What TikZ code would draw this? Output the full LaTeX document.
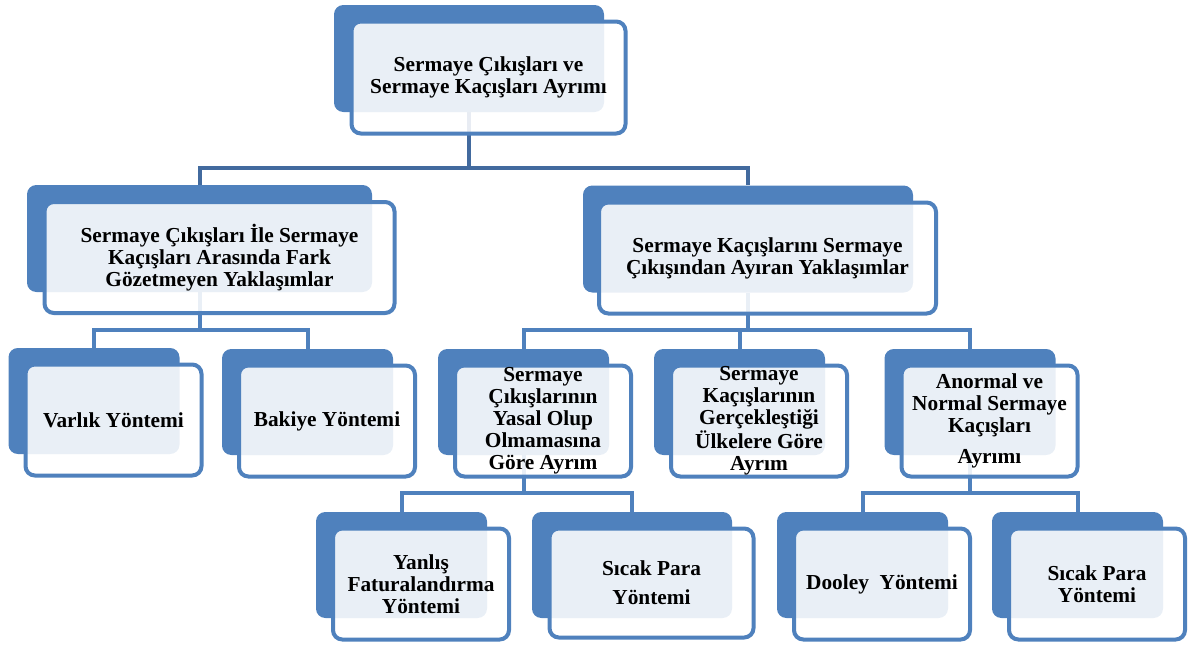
\documentclass[tikz,border=0pt]{standalone}
\usepackage{fontspec}
\setmainfont{Liberation Serif}
\usetikzlibrary{backgrounds}
\definecolor{boxblue}{RGB}{79,129,189}
\definecolor{linkdark}{RGB}{66,106,158}
\tikzset{
    backbox/.style = {
        rectangle, rounded corners=7pt,
        fill=boxblue, inner sep=0pt,
        minimum width=128.25pt, minimum height=79.5pt
    },
    frontbox/.style = {
        rectangle, rounded corners=7pt,
        draw=boxblue, line width=3pt,
        fill=white, fill opacity=0.88, text opacity=1,
        inner sep=0pt, align=center,
        minimum width=132pt, minimum height=83.25pt,
        font=\fontsize{16}{16.5}\selectfont\bfseries
    },
    link/.style = {
        draw=boxblue, line width=3pt
    }
}

\begin{document}
\begin{tikzpicture}[x=0.75pt, y=-0.75pt]
\useasboundingbox (0,0) rectangle (1192,646);

% root
\node (rootb) [backbox, minimum width=202.5pt, minimum height=80.25pt] at (469,58.5) {};
\node (root) [frontbox, minimum width=205.5pt, minimum height=84pt] at ([shift={(19.5,19)}]rootb.center) {Sermaye Çıkışları ve\\Sermaye Kaçışları Ayrımı};

% first level
\node (leftb) [backbox, minimum width=258.75pt, minimum height=80.25pt] at (199.5,238.5) {};
\node (left) [frontbox, minimum width=262.5pt] at ([shift={(20,19)}]leftb.center) {Sermaye Çıkışları İle Sermaye\\Kaçışları Arasında Fark\\Gözetmeyen Yaklaşımlar};
\node (rightb) [backbox, minimum width=247.5pt, minimum height=80.25pt] at (748,239) {};
\node (right) [frontbox, minimum width=252.75pt] at ([shift={(19.5,19)}]rightb.center) {Sermaye Kaçışlarını Sermaye\\Çıkışından Ayıran Yaklaşımlar};

% second level
\node (varlikb) [backbox] at (94,401) {};
\node (varlik) [frontbox] at ([shift={(19.5,19)}]varlikb.center) {Varlık Yöntemi};
\node (bakiyeb) [backbox] at (307.5,402) {};
\node (bakiye) [frontbox] at ([shift={(19.5,19)}]bakiyeb.center) {Bakiye Yöntemi};
\node (yasalb) [backbox] at (523.5,402) {};
\node (yasal) [frontbox] at ([shift={(19.5,19)}]yasalb.center) {Sermaye\\Çıkışlarının\\Yasal Olup\\Olmamasına\\Göre Ayrım};
\node (ulkeb) [backbox] at (739.5,402) {};
\node (ulke) [frontbox] at ([shift={(19.5,19)}]ulkeb.center) {Sermaye\\Kaçışlarının\\Gerçekleştiği\\Ülkelere Göre\\Ayrım};
\node (anormalb) [backbox] at (970,402) {};
\node (anormal) [frontbox] at ([shift={(19.5,19)}]anormalb.center) {Anormal ve\\Normal Sermaye\\Kaçışları\\[7pt]Ayrımı};

% third level
\node (yanlisb) [backbox] at (401.5,565) {};
\node (yanlis) [frontbox] at ([shift={(19.5,19)}]yanlisb.center) {Yanlış\\Faturalandırma\\Yöntemi};
\node (sicakb) [backbox, minimum width=150pt] at (632,565) {};
\node (sicak) [frontbox, minimum width=153pt, minimum height=81.75pt] at ([shift={(19.5,18)}]sicakb.center) {Sıcak Para\\[5pt]Yöntemi};
\node (dooleyb) [backbox] at (862.5,565) {};
\node (dooley) [frontbox] at ([shift={(19.5,19)}]dooleyb.center) {Dooley\ \ Yöntemi};
\node (sicakikib) [backbox] at (1077.5,565) {};
\node (sicakiki) [frontbox] at ([shift={(19.5,19)}]sicakikib.center) {Sıcak Para\\Yöntemi};

% connectors
\coordinate (busroot) at (469,168);
\coordinate (busleft) at (199.5,330);
\coordinate (busright) at (748,330);
\coordinate (busyasal) at (523.5,493);
\coordinate (busanormal) at (970,493);
\begin{pgfonlayer}{background}
\draw [link, draw=linkdark] (rootb.south) -- (busroot) -| (leftb.north);
\draw [link, draw=linkdark] (busroot) -| (rightb.north);
\draw [link] (leftb.south) -- (busleft) -| (varlikb.north);
\draw [link] (busleft) -| (bakiyeb.north);
\draw [link] (rightb.south) -- (busright) -| (yasalb.north);
\draw [link] (busright) -| (ulkeb.north);
\draw [link] (busright) -| (anormalb.north);
\draw [link] (yasalb.south) -- (busyasal) -| (yanlisb.north);
\draw [link] (busyasal) -| (sicakb.north);
\draw [link] (anormalb.south) -- (busanormal) -| (dooleyb.north);
\draw [link] (busanormal) -| (sicakikib.north);
\end{pgfonlayer}

\end{tikzpicture}
\end{document}
